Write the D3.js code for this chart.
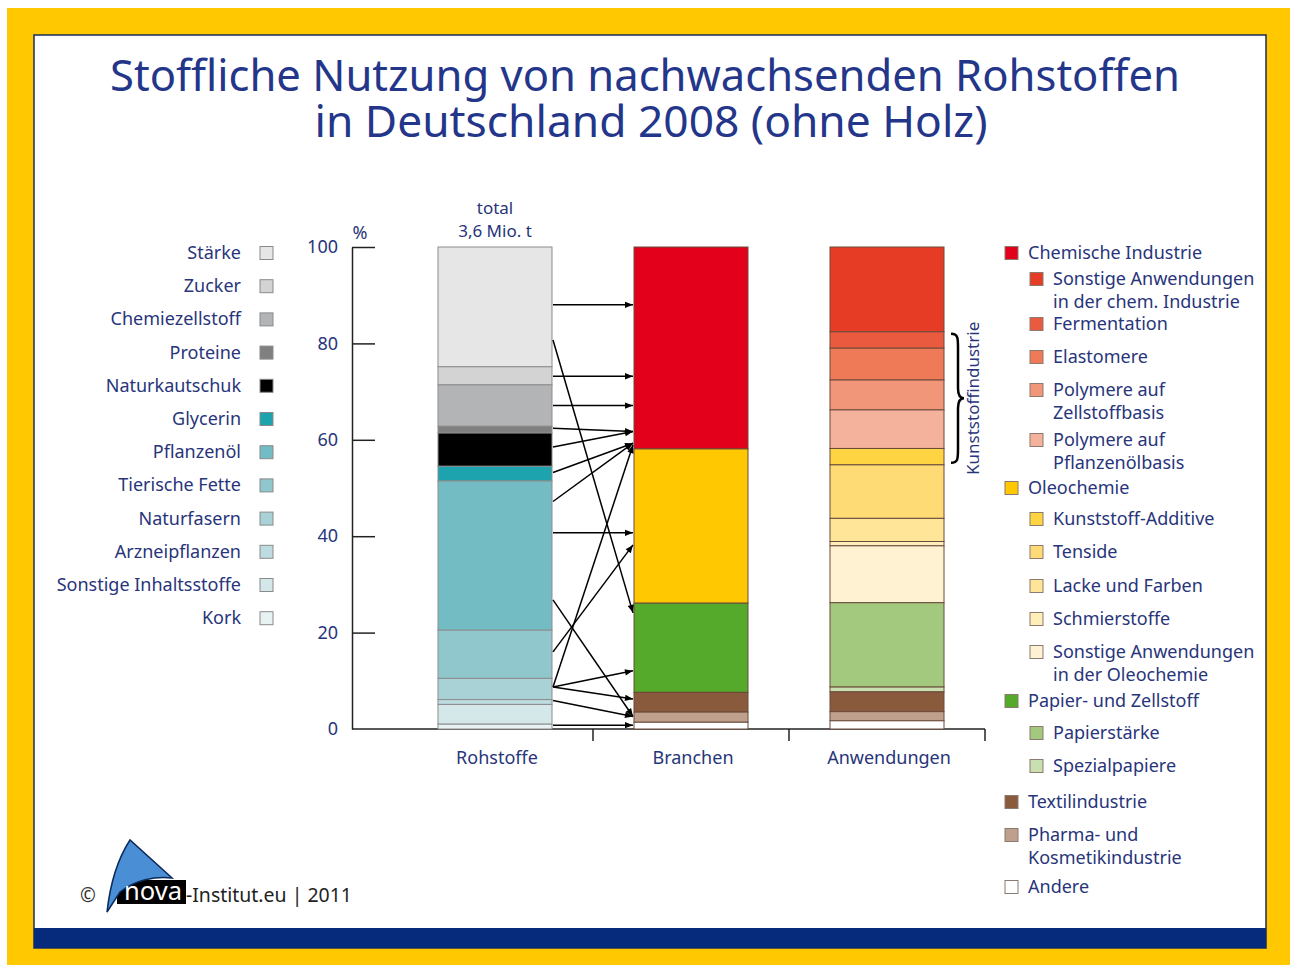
<!doctype html>
<html lang="de">
<head>
<meta charset="utf-8">
<style>
  body { margin: 0; background: #fff; }
  svg { display: block; }
  text { font-family: "Noto Sans", "Open Sans", sans-serif; fill: #28357a; }
</style>
</head>
<body>
<script src="https://d3js.org/d3.v7.min.js"></script>
<script>
var width = 1290, height = 965;

// --- data (percent shares) ---
var columns = ["Rohstoffe", "Branchen", "Anwendungen"];

var rohNames = ["Stärke", "Zucker", "Chemiezellstoff", "Proteine", "Naturkautschuk", "Glycerin",
  "Pflanzenöl", "Tierische Fette", "Naturfasern", "Arzneipflanzen", "Sonstige Inhaltsstoffe", "Kork"];
var rohValues = [24.85, 3.75, 8.6, 1.4, 6.9, 3.05, 30.95, 10.0, 4.4, 1.0, 4.1, 1.0];
var rohColors = ["#e6e6e6", "#d3d3d3", "#b3b4b6", "#808080", "#000000", "#1da3ad",
  "#74bcc3", "#90c7cc", "#a8d2d6", "#bddcdf", "#d4e8e9", "#e9f2f2"];

var branchenNames = ["Chemische Industrie", "Oleochemie", "Papier- und Zellstoff",
  "Textilindustrie", "Pharma- und Kosmetikindustrie", "Andere"];
var branchenValues = [41.9, 32.0, 18.5, 4.1, 2.1, 1.4];
var branchenColors = ["#e2001a", "#ffc800", "#55a92b", "#8a5a3d", "#bfa08d", "#ffffff"];

var anwNames = ["Sonstige Anwendungen in der chem. Industrie", "Fermentation", "Elastomere",
  "Polymere auf Zellstoffbasis", "Polymere auf Pflanzenölbasis", "Kunststoff-Additive", "Tenside",
  "Lacke und Farben", "Schmierstoffe", "Sonstige Anwendungen in der Oleochemie", "Papierstärke",
  "Spezialpapiere", "Textilindustrie", "Pharma- und Kosmetikindustrie", "Andere"];
var anwValues = [17.6, 3.4, 6.6, 6.2, 8.0, 3.4, 11.1, 4.8, 0.9, 11.8, 17.5, 1.0, 4.1, 1.9, 1.7];
var anwColors = ["#e63c26", "#ea5a3e", "#ee7a58", "#f29679", "#f4b19b", "#ffd443", "#ffdb76",
  "#ffe597", "#ffeeb8", "#fff2d3", "#a3c97e", "#c8e0b0", "#8a5a3d", "#bfa08d", "#ffffff"];

// arrows: [start % in Rohstoffe, end % in Branchen]
var flows = [[88.0, 88.0], [80.7, 24.1], [73.2, 73.2], [67.1, 67.1], [62.4, 61.7], [58.5, 61.7],
  [53.2, 59.3], [47.2, 59.3], [40.7, 40.7], [16.0, 38.2], [26.8, 2.6], [8.7, 12.1], [8.7, 6.2],
  [8.7, 58.9], [5.9, 2.6], [0.8, 0.8]];

// right legend: [label lines, level, colour]
var legendRight = [
  [["Chemische Industrie"], 0, "#e2001a"],
  [["Sonstige Anwendungen", "in der chem. Industrie"], 1, "#e63c26"],
  [["Fermentation"], 1, "#ea5a3e"],
  [["Elastomere"], 1, "#ee7a58"],
  [["Polymere auf", "Zellstoffbasis"], 1, "#f29679"],
  [["Polymere auf", "Pflanzenölbasis"], 1, "#f4b19b"],
  [["Oleochemie"], 0, "#ffc800"],
  [["Kunststoff-Additive"], 1, "#ffd443"],
  [["Tenside"], 1, "#ffdb76"],
  [["Lacke und Farben"], 1, "#ffe597"],
  [["Schmierstoffe"], 1, "#ffeeb8"],
  [["Sonstige Anwendungen", "in der Oleochemie"], 1, "#fff2d3"],
  [["Papier- und Zellstoff"], 0, "#55a92b"],
  [["Papierstärke"], 1, "#a3c97e"],
  [["Spezialpapiere"], 1, "#c8e0b0"],
  [["Textilindustrie"], 0, "#8a5a3d"],
  [["Pharma- und", "Kosmetikindustrie"], 0, "#bfa08d"],
  [["Andere"], 0, "#ffffff"]
];
var legendRightY = [253, 279, 324, 357, 390, 440, 488, 519, 552, 586, 619, 652, 701, 733, 766, 802, 835, 887];

var svg = d3.select("body").append("svg")
  .attr("width", width)
  .attr("height", height);

// frame
svg.append("rect").attr("x", 7).attr("y", 8).attr("width", width - 7).attr("height", height - 8).attr("fill", "#ffc800");
svg.append("rect").attr("x", 34).attr("y", 35).attr("width", 1232).attr("height", 913)
  .attr("fill", "#fff").attr("stroke", "#1c2a55").attr("stroke-width", 1.5);
svg.append("rect").attr("x", 34).attr("y", 928).attr("width", 1232).attr("height", 20).attr("fill", "#062b7c");

// title
svg.append("text").attr("x", 645).attr("y", 91).attr("text-anchor", "middle")
  .style("font-size", "43px").style("fill", "#24368a")
  .attr("textLength", 1070).attr("lengthAdjust", "spacingAndGlyphs")
  .text("Stoffliche Nutzung von nachwachsenden Rohstoffen");
svg.append("text").attr("x", 651).attr("y", 137).attr("text-anchor", "middle")
  .style("font-size", "43px").style("fill", "#24368a")
  .attr("textLength", 673).attr("lengthAdjust", "spacingAndGlyphs")
  .text("in Deutschland 2008 (ohne Holz)");

var y = d3.scaleLinear().domain([0, 100]).range([729, 247]);
var x = d3.scaleBand().domain(columns).range([397, 985]);
var barW = 114;
function barX(c) { return x(c) + (x.bandwidth() - barW) / 2; }

// y axis
var yAxis = svg.append("g")
  .attr("transform", "translate(352,0)")
  .call(d3.axisLeft(y).tickValues([0, 20, 40, 60, 80, 100]).tickSize(-23).tickSizeOuter(0).tickPadding(14));
yAxis.selectAll("path, line").attr("stroke", "#222").attr("stroke-width", 1.5);
yAxis.selectAll("text").style("font-size", "18px").style("fill", "#28357a")
  .style("font-family", "'Noto Sans', sans-serif");
yAxis.select(".tick:first-of-type line").remove();
svg.append("text").attr("x", 360).attr("y", 239).attr("text-anchor", "middle")
  .style("font-size", "18px").text("%");

// x axis
svg.append("line").attr("x1", 352).attr("x2", x.range()[1]).attr("y1", y(0)).attr("y2", y(0))
  .attr("stroke", "#222").attr("stroke-width", 1.5);
svg.selectAll(".xtick").data(columns).enter().append("line")
  .attr("x1", function(d) { return x(d) + x.bandwidth(); })
  .attr("x2", function(d) { return x(d) + x.bandwidth(); })
  .attr("y1", y(0)).attr("y2", y(0) + 12)
  .attr("stroke", "#222").attr("stroke-width", 1.5);
svg.selectAll(".xlab").data(columns).enter().append("text")
  .attr("x", function(d) { return barX(d) + barW / 2 + 2; })
  .attr("y", 764).attr("text-anchor", "middle")
  .style("font-size", "18px")
  .text(function(d) { return d; });

// stacked bars
function stack(values) {
  var top = 100;
  return values.map(function(v, i) {
    var s = { i: i, top: top, bottom: top - v };
    top -= v;
    return s;
  });
}
function drawBar(col, values, colors, stroke) {
  svg.append("g").selectAll("rect").data(stack(values)).enter().append("rect")
    .attr("x", barX(col))
    .attr("width", barW)
    .attr("y", function(d) { return y(d.top); })
    .attr("height", function(d) { return y(d.bottom) - y(d.top); })
    .attr("fill", function(d) { return colors[d.i]; })
    .attr("stroke", stroke)
    .attr("stroke-width", 1);
}
drawBar("Rohstoffe", rohValues, rohColors, "#8c8c8c");
drawBar("Branchen", branchenValues, branchenColors, "#6a4a3a");
drawBar("Anwendungen", anwValues, anwColors, "#6a4a3a");

svg.append("text").attr("x", barX("Rohstoffe") + barW / 2).attr("y", 214).attr("text-anchor", "middle")
  .style("font-size", "17px").text("total");
svg.append("text").attr("x", barX("Rohstoffe") + barW / 2).attr("y", 237).attr("text-anchor", "middle")
  .style("font-size", "17px").text("3,6 Mio. t");

// arrows
svg.append("defs").append("marker")
  .attr("id", "arrow").attr("viewBox", "0 -5 10 10")
  .attr("refX", 10).attr("refY", 0)
  .attr("markerUnits", "userSpaceOnUse")
  .attr("markerWidth", 10).attr("markerHeight", 8)
  .attr("orient", "auto")
  .append("path").attr("d", "M0,-4L10,0L0,4Z").attr("fill", "#000");

var x1 = barX("Rohstoffe") + barW + 1, x2 = barX("Branchen") - 1;
svg.append("g").selectAll("line").data(flows).enter().append("line")
  .attr("x1", x1).attr("y1", function(d) { return y(d[0]); })
  .attr("x2", x2).attr("y2", function(d) { return y(d[1]); })
  .attr("stroke", "#000").attr("stroke-width", 1.5)
  .attr("marker-end", "url(#arrow)");

// Kunststoffindustrie brace: Fermentation .. Kunststoff-Additive
var st = stack(anwValues);
var bTop = y(st[1].top) + 2, bBot = y(st[5].bottom) - 2, bMid = (bTop + bBot) / 2;
var bx = barX("Anwendungen") + barW + 7;
svg.append("path")
  .attr("d", "M" + bx + "," + bTop +
    " C" + (bx + 7) + "," + bTop + " " + (bx + 7) + "," + (bTop + 4) + " " + (bx + 7) + "," + (bTop + 14) +
    " L" + (bx + 7) + "," + (bMid - 10) +
    " C" + (bx + 7) + "," + (bMid - 3) + " " + (bx + 9) + "," + bMid + " " + (bx + 13) + "," + bMid +
    " C" + (bx + 9) + "," + bMid + " " + (bx + 7) + "," + (bMid + 3) + " " + (bx + 7) + "," + (bMid + 10) +
    " L" + (bx + 7) + "," + (bBot - 14) +
    " C" + (bx + 7) + "," + (bBot - 4) + " " + (bx + 7) + "," + bBot + " " + bx + "," + bBot)
  .attr("fill", "none").attr("stroke", "#000").attr("stroke-width", 2.5);
svg.append("text")
  .attr("transform", "translate(" + (bx + 28) + "," + bMid + ") rotate(-90)")
  .attr("text-anchor", "middle")
  .style("font-size", "17px").text("Kunststoffindustrie");

// left legend
var leftLeg = svg.append("g").selectAll("g").data(rohNames).enter().append("g")
  .attr("transform", function(d, i) { return "translate(0," + (253 + i * 33.2) + ")"; });
leftLeg.append("text").attr("x", 241).attr("y", 6).attr("text-anchor", "end")
  .style("font-size", "18px").text(function(d) { return d; });
leftLeg.append("rect").attr("x", 260).attr("y", -6.5).attr("width", 13).attr("height", 13)
  .attr("fill", function(d, i) { return rohColors[i]; })
  .attr("stroke", "#8a8a8a").attr("stroke-width", 1);

// right legend
var rightLeg = svg.append("g").selectAll("g").data(legendRight).enter().append("g")
  .attr("transform", function(d, i) { return "translate(" + (1005 + d[1] * 25) + "," + legendRightY[i] + ")"; });
rightLeg.append("rect").attr("x", 0).attr("y", -6.5).attr("width", 13).attr("height", 13)
  .attr("fill", function(d) { return d[2]; })
  .attr("stroke", "#8a7a70").attr("stroke-width", 1);
rightLeg.each(function(d) {
  var g = d3.select(this);
  d[0].forEach(function(line, j) {
    g.append("text").attr("x", 23).attr("y", 6 + j * 23)
      .style("font-size", "18px").text(line);
  });
});

// logo
var logo = svg.append("g");
logo.append("text").attr("x", 80).attr("y", 902).style("font-size", "19px").style("fill", "#333").text("©");
logo.append("rect").attr("x", 117).attr("y", 880).attr("width", 69).attr("height", 24).attr("fill", "#000");
logo.append("path")
  .attr("d", "M107,912 C110,885 117,860 130,840 L172,878 C155,876 135,880 120,892 Z")
  .attr("fill", "#4a8fd6").attr("stroke", "#0c2a5a").attr("stroke-width", 1.5);
logo.append("text").attr("x", 124).attr("y", 900).style("font-size", "25px")
  .style("fill", "#fff").attr("textLength", 58).attr("lengthAdjust", "spacingAndGlyphs").text("nova");
logo.append("text").attr("x", 186).attr("y", 902).style("font-size", "20px").style("fill", "#222")
  .attr("textLength", 166).attr("lengthAdjust", "spacingAndGlyphs")
  .text("-Institut.eu | 2011");
</script>
</body>
</html>
